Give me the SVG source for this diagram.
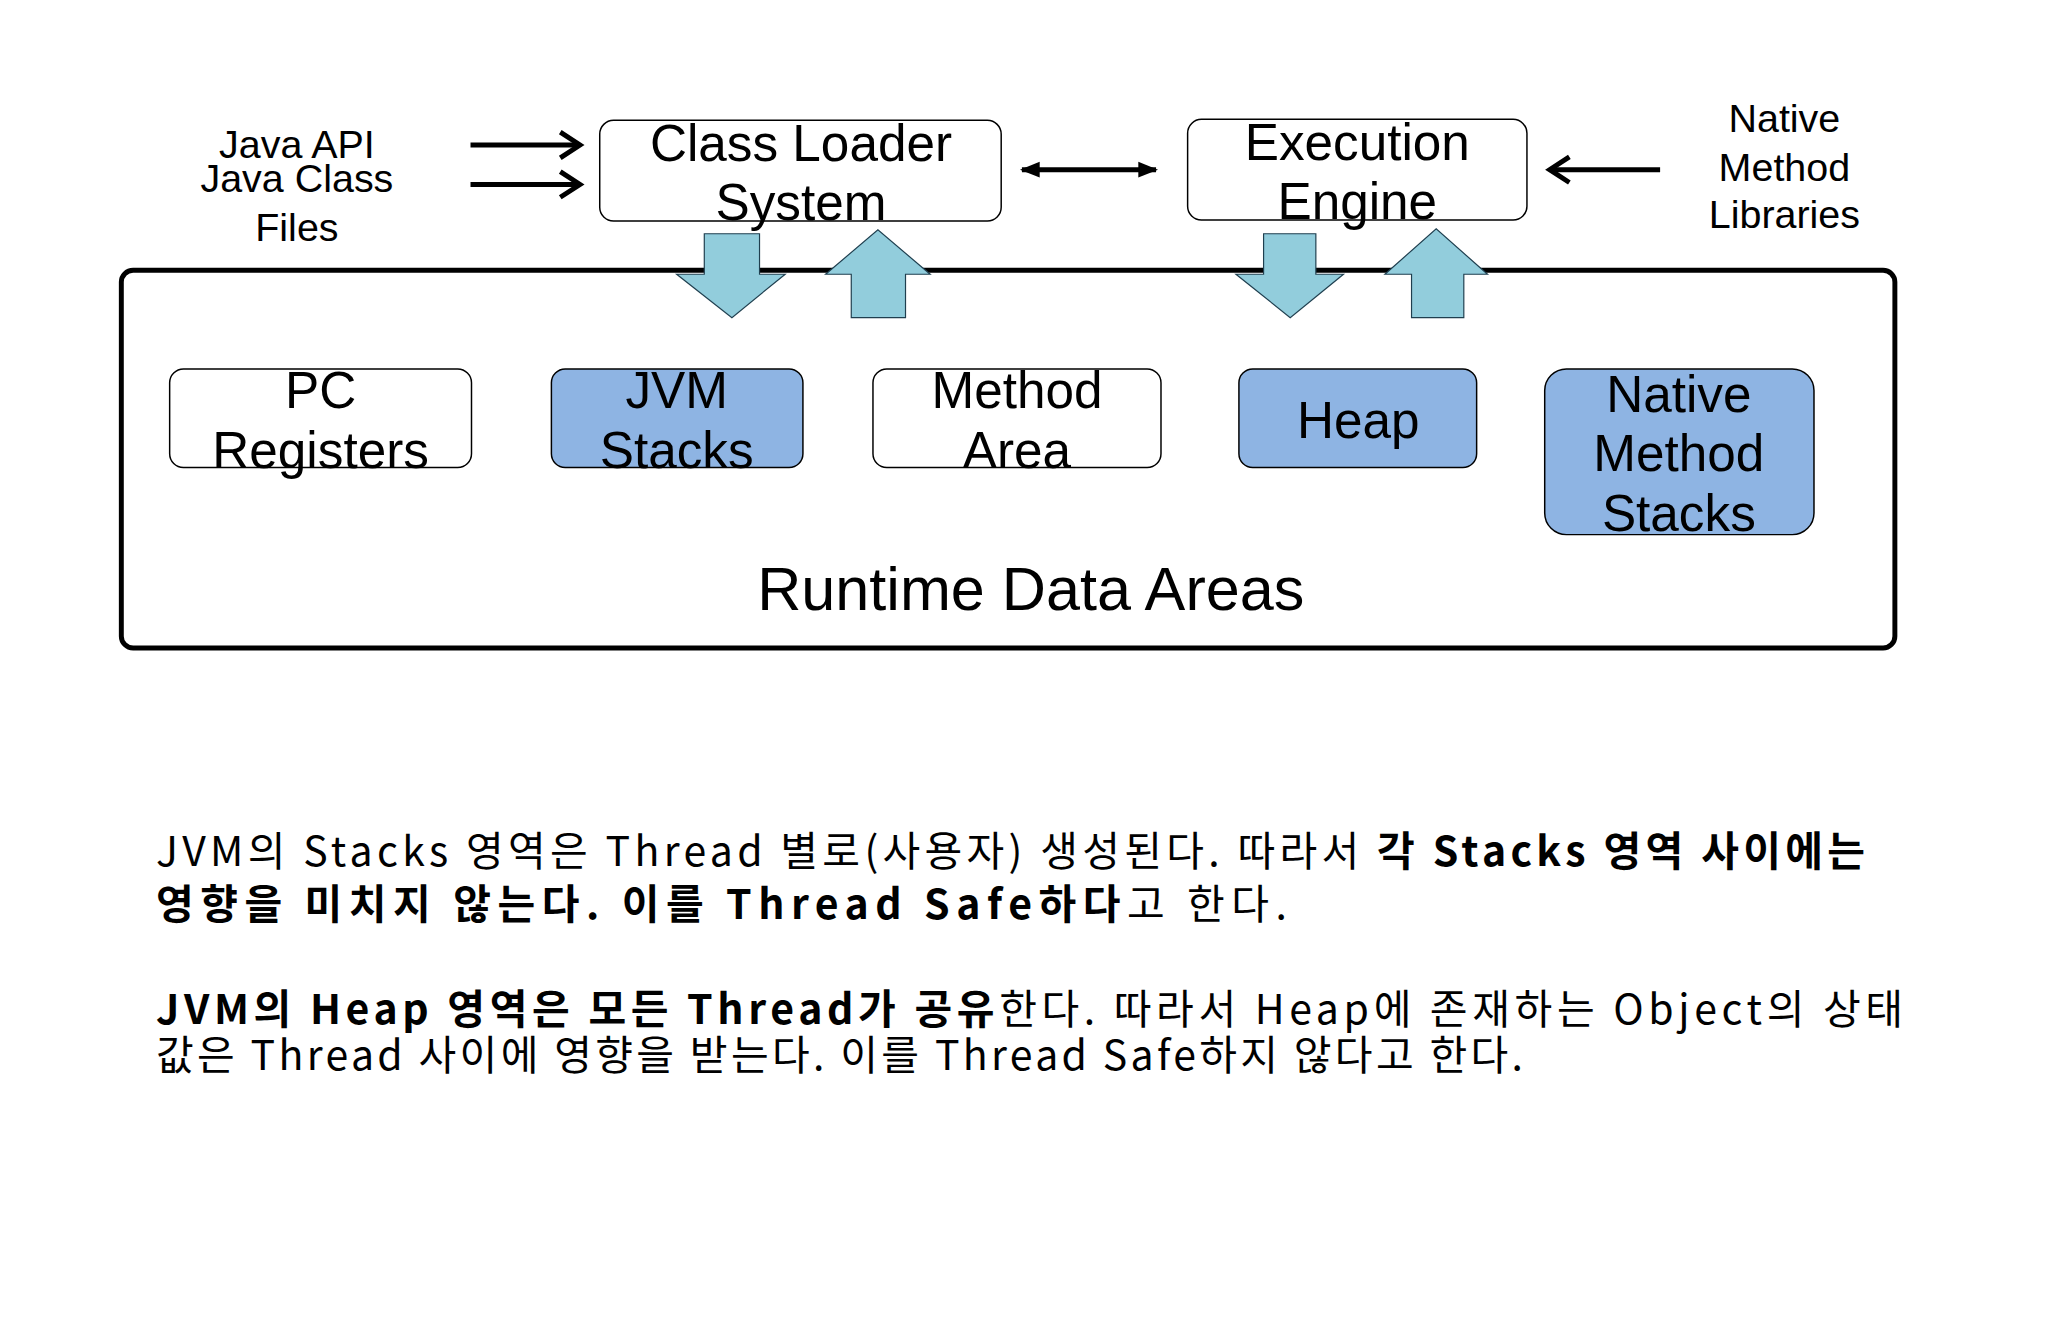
<svg xmlns="http://www.w3.org/2000/svg" width="2048" height="1326" viewBox="0 0 2048 1326">
<defs>
<style>
text{font-family:"Liberation Sans","Noto Sans CJK KR",sans-serif;fill:#000}
.node{fill:#fff;stroke:#000;stroke-width:1.5}
.blue{fill:#8EB4E3}
.lbl{font-size:52px;text-anchor:middle}
.side{font-size:40px;text-anchor:middle}
.ln{stroke:#000;stroke-width:5;fill:none}
.blk{fill:#92CDDC;stroke:#1F3F4F;stroke-width:1.2}
.kr{font-family:"Noto Sans CJK KR",sans-serif;font-size:41px}
.b{font-weight:bold}
</style>
<marker id="at" viewBox="0 0 10 10" refX="9" refY="5" markerWidth="4" markerHeight="4" orient="auto-start-reverse"><path d="M0,1 L10,5 L0,9 Z" fill="#000"/></marker>
</defs>
<rect width="2048" height="1326" fill="#fff"/>
<g transform="scale(0.9864)">
<g id="runtime">
<rect x="123" y="274" width="1798" height="383" rx="12" fill="#fff" stroke="#000" stroke-width="5"/>
<text x="1045" y="618" font-size="62" text-anchor="middle">Runtime Data Areas</text>
</g>
<g id="connectors">
<path class="ln" d="M477,147 H587"/>
<path d="M568,134 L588,147 L568,160" fill="none" stroke="#000" stroke-width="5"/>
<path class="ln" d="M477,187 H587"/>
<path d="M568,174 L588,187 L568,200" fill="none" stroke="#000" stroke-width="5"/>
<path class="ln" d="M1036,172 H1172" marker-start="url(#at)" marker-end="url(#at)" stroke-width="4"/>
<path class="ln" d="M1683,172 H1572"/>
<path d="M1591,159 L1571,172 L1591,185" fill="none" stroke="#000" stroke-width="5"/>
<polygon class="blk" points="714,237 770,237 770,278 796,278 742,322 686,278 714,278"/>
<polygon class="blk" points="863,322 918,322 918,278 943,278 890,233 837,278 863,278"/>
<polygon class="blk" points="1281,237 1334,237 1334,278 1362,278 1308,322 1253,278 1281,278"/>
<polygon class="blk" points="1431,322 1484,322 1484,278 1508,278 1456,232 1404,278 1431,278"/>
</g>
<g id="javaapi">
<text class="side" x="301" y="160">Java API</text>
<text class="side" x="301" y="195">Java Class</text>
<text class="side" x="301" y="244">Files</text>
</g>
<g id="nativelib">
<text class="side" x="1809" y="134">Native</text>
<text class="side" x="1809" y="183">Method</text>
<text class="side" x="1809" y="231">Libraries</text>
</g>
<g id="classloader">
<rect class="node" x="608" y="122" width="407" height="102" rx="14"/>
<text class="lbl" x="812" y="163">Class Loader</text>
<text class="lbl" x="812" y="223">System</text>
</g>
<g id="engine">
<rect class="node" x="1204" y="121" width="344" height="102" rx="14"/>
<text class="lbl" x="1376" y="162">Execution</text>
<text class="lbl" x="1376" y="222">Engine</text>
</g>
<g id="pc">
<rect class="node" x="172" y="374" width="306" height="100" rx="14"/>
<text class="lbl" x="325" y="414">PC</text>
<text class="lbl" x="325" y="474">Registers</text>
</g>
<g id="jvmstacks">
<rect class="node blue" x="559" y="374" width="255" height="100" rx="14"/>
<text class="lbl" x="686" y="414">JVM</text>
<text class="lbl" x="686" y="474">Stacks</text>
</g>
<g id="method">
<rect class="node" x="885" y="374" width="292" height="100" rx="14"/>
<text class="lbl" x="1031" y="414">Method</text>
<text class="lbl" x="1031" y="474">Area</text>
</g>
<g id="heap">
<rect class="node blue" x="1256" y="374" width="241" height="100" rx="14"/>
<text class="lbl" x="1377" y="444">Heap</text>
</g>
<g id="nativestacks">
<rect class="node blue" x="1566" y="374" width="273" height="168" rx="22"/>
<text class="lbl" x="1702" y="418">Native</text>
<text class="lbl" x="1702" y="478">Method</text>
<text class="lbl" x="1702" y="538">Stacks</text>
</g>
</g>
<g id="desc">
<text class="kr" x="156" y="866" textLength="1709" lengthAdjust="spacing">JVM의 Stacks 영역은 Thread 별로(사용자) 생성된다. 따라서 <tspan class="b">각 Stacks 영역 사이에는</tspan></text>
<text class="kr" x="156" y="919" textLength="1131" lengthAdjust="spacing"><tspan class="b">영향을 미치지 않는다. 이를 Thread Safe하다</tspan>고 한다.</text>
<text class="kr" x="156" y="1024" textLength="1747" lengthAdjust="spacing"><tspan class="b">JVM의 Heap 영역은 모든 Thread가 공유</tspan>한다. 따라서 Heap에 존재하는 Object의 상태</text>
<text class="kr" x="156" y="1070" textLength="1367" lengthAdjust="spacing">값은 Thread 사이에 영향을 받는다. 이를 Thread Safe하지 않다고 한다.</text>
</g>
</svg>
